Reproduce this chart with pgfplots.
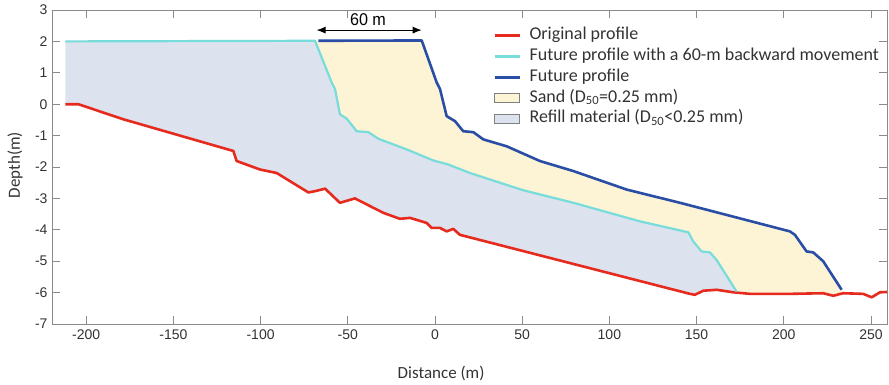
\documentclass[border=0pt]{standalone}
\usepackage{fontspec}
\setmainfont{Carlito}
\newfontfamily\ticksans{Liberation Sans}
\usepackage{pgfplots}
\pgfplotsset{compat=1.18}
\usetikzlibrary{arrows.meta}
\definecolor{redp}{HTML}{E62A1E}
\definecolor{cyanp}{HTML}{78DCDA}
\definecolor{bluep}{HTML}{2A4EA6}
\definecolor{sand}{HTML}{FDF4D6}
\definecolor{refill}{HTML}{DDE3EE}
\definecolor{axgray}{HTML}{8A8A8A}
\definecolor{txt}{HTML}{333333}
\begin{document}
\begin{tikzpicture}
\begin{axis}[
  at={(0,0)}, anchor=south west,
  scale only axis, width=835pt, height=314pt,
  xmin=-219.6, xmax=259.2, ymin=-7, ymax=3,
  xtick={-200,-150,...,250}, ytick={-7,-6,...,3},
  axis line style={axgray, line width=0.8pt},
  tick style={axgray, line width=0.8pt},
  tick align=inside,
  major tick length=8pt,
  /pgf/number format/assume math mode=true,
  ticklabel style={font=\ticksans\fontsize{14}{16}\selectfont, text=txt},
  xticklabel style={yshift=-2pt},
  yticklabel style={xshift=-1pt},
  xlabel={Distance (m)},
  ylabel={Depth(m)},
  label style={font=\fontsize{17}{20}\selectfont, text=txt},
  xlabel style={at={(rel axis cs:0.466,0)}, anchor=center, yshift=-49pt},
  ylabel style={at={(rel axis cs:0,0.506)}, anchor=center, rotate=0, yshift=37pt},
  legend style={draw=none, fill=none, at={(rel axis cs:0.5246,0.958)}, anchor=north west,
    font=\fontsize{18}{21}\selectfont, text=txt, row sep=0pt,
    nodes={text height=11.5pt, text depth=3.5pt, inner ysep=2.9pt}},
  legend cell align=left,
  legend image code/.code={\draw[#1] (0pt,0pt) -- (25pt,0pt); \path[draw=none, fill=none] (0pt,0pt) -- (33pt,0pt);},
]
% Sand (between future profile and shifted profile)
\addplot[fill=sand, draw=none, forget plot] coordinates {
(-66.9,2.02) (-7.6,2.03) (1,0.69) (2.9,0.48) (6.7,-0.38) (11.5,-0.54) (16.2,-0.86) (22,-0.89) (27.7,-1.12) (41.1,-1.34) (60.2,-1.81) (79.4,-2.13) (110,-2.72) (140.5,-3.14) (203.5,-4.05) (206.4,-4.16) (213.1,-4.69) (216.9,-4.72) (222.6,-5.0) (233.2,-5.91)
(233.2,-6.03) (228.4,-6.1) (222.6,-6.02) (203.5,-6.04) (180.6,-6.04) (173,-5.99)
(161.5,-4.96) (157.7,-4.72) (152.9,-4.69) (148.1,-4.37) (145.3,-4.08) (117.5,-3.73) (79.4,-3.14) (50.6,-2.74) (20,-2.19) (7.6,-1.92) (-1,-1.79) (-16.2,-1.44) (-32.5,-1.1) (-38.2,-0.89) (-44.9,-0.86) (-50.6,-0.46) (-54.5,-0.32) (-57.3,0.48) (-59.2,0.69) (-68.8,2.02)
} -- cycle;
% Refill material
\addplot[fill=refill, draw=none, forget plot] coordinates {
(-212,2.0) (-68.8,2.02) (-59.2,0.69) (-57.3,0.48) (-54.5,-0.32) (-50.6,-0.46) (-44.9,-0.86) (-38.2,-0.89) (-32.5,-1.1) (-16.2,-1.44) (-1,-1.79) (7.6,-1.92) (20,-2.19) (50.6,-2.74) (79.4,-3.14) (117.5,-3.73) (145.3,-4.08) (148.1,-4.37) (152.9,-4.69) (157.7,-4.72) (161.5,-4.96) (173,-5.97)
(171,-5.99) (161.5,-5.91) (153.9,-5.94) (149,-6.07) (146.2,-6.04) (14.3,-4.16) (10.5,-3.97) (6.7,-4.05) (2.9,-3.94) (-1.9,-3.94) (-4.8,-3.78) (-14.3,-3.62) (-20.1,-3.65) (-29.6,-3.46) (-45.9,-3.0) (-54.5,-3.14) (-63,-2.69) (-68.8,-2.77) (-72.6,-2.81) (-90.8,-2.19) (-100.3,-2.08) (-113.7,-1.81) (-115.6,-1.49) (-178.7,-0.48) (-204.5,0) (-212,0)
} -- cycle;
% Original profile
\addplot[redp, line width=2.6pt, line join=round] coordinates {
(-212,0.0) (-204.5,0) (-178.7,-0.48) (-115.6,-1.49) (-113.7,-1.81) (-100.3,-2.08) (-90.8,-2.19) (-72.6,-2.81) (-68.8,-2.77) (-63,-2.69) (-54.5,-3.14) (-45.9,-3.0) (-29.6,-3.46) (-20.1,-3.65) (-14.3,-3.62) (-4.8,-3.78) (-1.9,-3.94) (2.9,-3.94) (6.7,-4.05) (10.5,-3.97) (14.3,-4.16) (146.2,-6.04) (149,-6.07) (153.9,-5.94) (161.5,-5.91) (171,-5.99) (180.6,-6.04) (203.5,-6.04) (222.6,-6.02) (228.4,-6.1) (234,-6.02) (245.6,-6.04) (250.4,-6.15) (255.2,-5.99) (259.2,-5.98)
};
\addlegendentry{Original profile}
% Future profile with 60-m backward movement
\addplot[cyanp, line width=2.2pt, line join=round] coordinates {
(-212,2.0) (-68.8,2.02) (-59.2,0.69) (-57.3,0.48) (-54.5,-0.32) (-50.6,-0.46) (-44.9,-0.86) (-38.2,-0.89) (-32.5,-1.1) (-16.2,-1.44) (-1,-1.79) (7.6,-1.92) (20,-2.19) (50.6,-2.74) (79.4,-3.14) (117.5,-3.73) (145.3,-4.08) (148.1,-4.37) (152.9,-4.69) (157.7,-4.72) (161.5,-4.96) (173,-5.97)
};
\addlegendentry{Future profile with a 60-m backward movement}
% Future profile
\addplot[bluep, line width=2.6pt, line join=round] coordinates {
(-66.9,2.02) (-7.6,2.03) (1,0.69) (2.9,0.48) (6.7,-0.38) (11.5,-0.54) (16.2,-0.86) (22,-0.89) (27.7,-1.12) (41.1,-1.34) (60.2,-1.81) (79.4,-2.13) (110,-2.72) (140.5,-3.14) (203.5,-4.05) (206.4,-4.16) (213.1,-4.69) (216.9,-4.72) (222.6,-5.0) (233.2,-5.91)
};
\addlegendentry{Future profile}
\addlegendimage{legend image code/.code={\draw[fill=sand, draw=gray, line width=0.8pt] (0pt,-4.5pt) rectangle (25pt,4.5pt); \path[draw=none, fill=none] (0pt,0pt) -- (33pt,0pt);}}
\addlegendentry{Sand (D\textsubscript{50}=0.25 mm)}
\addlegendimage{legend image code/.code={\draw[fill=refill, draw=gray, line width=0.8pt] (0pt,-4.5pt) rectangle (25pt,4.5pt); \path[draw=none, fill=none] (0pt,0pt) -- (33pt,0pt);}}
\addlegendentry{Refill material (D\textsubscript{50}<0.25 mm)}
% 60 m annotation
\draw[{Latex[length=9pt,width=7pt]}-{Latex[length=9pt,width=7pt]}, black, line width=1pt] (axis cs:-67.9,2.36) -- (axis cs:-7.6,2.36);
\node[font=\ticksans\fontsize{17}{19}\selectfont, text=black, xscale=0.95] at (axis cs:-38.4,2.69) {60 m};
\end{axis}
\pgfresetboundingbox
\path (-52pt,-60pt) rectangle (837pt,324pt);
\end{tikzpicture}
\end{document}
